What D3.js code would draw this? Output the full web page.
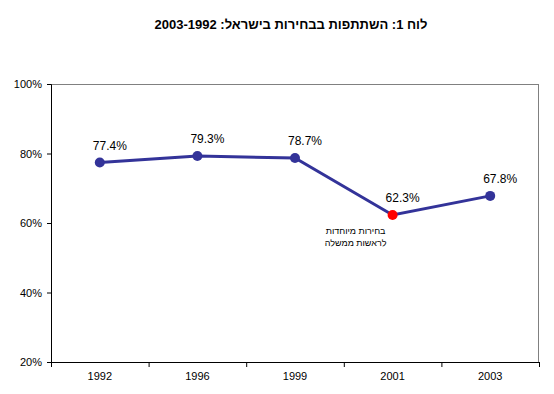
<!DOCTYPE html>
<html>
<head>
<meta charset="utf-8">
<script src="https://cdn.jsdelivr.net/npm/d3@7"></script>
<style>
  body { margin: 0; background: #fff; }
  text { font-family: "Liberation Sans", Arial, sans-serif; }
</style>
</head>
<body>
<div class="vis-line"></div>
<script>
const years = ['1992', '1996', '1999', '2001', '2003'];
const turnout = [0.774, 0.793, 0.787, 0.623, 0.678];
const highlightYear = '2001';
const yTicks = [0.2, 0.4, 0.6, 0.8, 1.0];
const titleText = 'לוח 1: השתתפות בבחירות בישראל: 2003-1992';
const noteLines = ['בחירות מיוחדות', 'לראשות ממשלה'];

const margin = { top: 84, right: 15, bottom: 32, left: 51 };
const W = 554, H = 394;
const width = W - margin.left - margin.right;
const height = H - margin.top - margin.bottom;

const svg = d3.select('.vis-line')
    .append('svg')
    .attr('width', W)
    .attr('height', H);

// title
svg.append('text')
    .attr('x', 291)
    .attr('y', 29)
    .attr('text-anchor', 'middle')
    .attr('direction', 'rtl')
    .style('font-size', '13px')
    .style('font-weight', 'bold')
    .text(titleText);

const g = svg.append('g')
    .attr('transform', 'translate(' + margin.left + ',' + margin.top + ')');

const x = d3.scaleBand().domain(years).range([0, width]);
const y = d3.scaleLinear().domain([0.2, 1]).range([height, 0]);

// plot area border (top & right gray)
g.append('line').attr('x1', 0).attr('x2', width).attr('y1', 0.5).attr('y2', 0.5)
    .attr('stroke', '#808080');
g.append('line').attr('x1', width - 0.5).attr('x2', width - 0.5).attr('y1', 0).attr('y2', height)
    .attr('stroke', '#808080');

// Y axis
const yAxis = g.append('g')
    .call(d3.axisLeft(y).tickValues(yTicks).tickFormat(d3.format('.0%')).tickSize(4).tickPadding(5));
yAxis.select('.domain').attr('stroke', '#000');
yAxis.selectAll('text').style('font-size', '11px').style('font-family', '"Liberation Sans", Arial, sans-serif');

// X axis: labels at centers, ticks at category boundaries
const xAxis = g.append('g')
    .attr('transform', 'translate(0,' + height + ')')
    .call(d3.axisBottom(x).tickSize(0).tickPadding(10));
xAxis.select('.domain').attr('stroke', '#000');
xAxis.selectAll('text').style('font-size', '11px').style('font-family', '"Liberation Sans", Arial, sans-serif');
xAxis.selectAll('.bound')
    .data(years.map(d => x(d)).concat([width]))
    .enter().append('line')
    .attr('x1', d => d + 0.5).attr('x2', d => d + 0.5)
    .attr('y1', 0).attr('y2', 5)
    .attr('stroke', '#000');

const cx = d => x(d) + x.bandwidth() / 2;
const pts = years.map((d, i) => ({ year: d, value: turnout[i] }));

g.append('path')
    .datum(pts)
    .attr('fill', 'none')
    .attr('stroke', '#333399')
    .attr('stroke-width', 3)
    .attr('d', d3.line().x(d => cx(d.year)).y(d => y(d.value)));

g.selectAll('.dot')
    .data(pts)
    .enter().append('circle')
    .attr('cx', d => cx(d.year))
    .attr('cy', d => y(d.value))
    .attr('r', 5)
    .attr('fill', d => d.year === highlightYear ? '#ff0000' : '#333399');

g.selectAll('.lbl')
    .data(pts)
    .enter().append('text')
    .attr('x', d => cx(d.year) + 10)
    .attr('y', d => y(d.value) - 13)
    .attr('text-anchor', 'middle')
    .style('font-size', '12px')
    .text(d => d3.format('.1%')(d.value));

// annotation under the 2001 point
const note = g.append('text')
    .attr('x', cx(highlightYear) + 2 - 39)
    .attr('y', y(turnout[years.indexOf(highlightYear)]) + 19)
    .attr('text-anchor', 'middle')
    .attr('direction', 'rtl')
    .style('font-size', '9px');
note.selectAll('tspan')
    .data(noteLines)
    .enter().append('tspan')
    .attr('x', cx(highlightYear) - 37)
    .attr('dy', (d, i) => i === 0 ? 0 : 12)
    .text(d => d);
</script>
</body>
</html>
